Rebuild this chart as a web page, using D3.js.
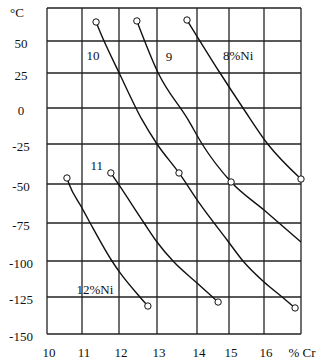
<!DOCTYPE html>
<html>
<head>
<meta charset="utf-8">
<script src="https://cdn.jsdelivr.net/npm/d3@7"></script>
<style>
body{margin:0;background:#fff;}
svg{display:block;}
</style>
</head>
<body>
<div id="chart"></div>
<script>
// ticks of the grid
var crTicks = [10, 11, 12, 13, 14, 15, 16, 17];
var tempTicks = [75, 50, 25, 0, -25, -50, -75, -100, -125, -150];
var crLabels = ["10", "11", "12", "13", "14", "15", "16"];
var tempLabels = ["50", "25", "0", "-25", "-50", "-75", "-100", "-125", "-150"];

// curves: [%Cr, °C]
var ni8 = [[13.75, 65.9], [14.72, 25], [15.4, 0], [16.1, -25], [17.0, -46.9]];
var ni9 = [[12.47, 65.2], [13.03, 25], [13.78, -8.3], [14.16, -25], [15.06, -48.75], [16.0, -66.7], [17.0, -87.5]];
var ni10 = [[11.38, 64.4], [11.49, 56.8], [12.03, 23.6], [12.61, -8.3], [13.0, -25], [13.55, -43.1], [14.09, -62.8], [14.94, -86.2], [15.4, -100], [16.0, -114.6], [16.49, -125], [16.84, -132.4]];
var ni11 = [[11.78, -43.1], [12.0, -50.6], [12.66, -75], [13.0, -87.5], [13.4, -100], [14.0, -115.3], [14.66, -128.4]];
var ni12 = [[10.57, -46.25], [10.63, -50], [11.0, -65.4], [11.22, -75], [11.81, -100], [12.03, -108.3], [12.55, -125], [12.76, -131.1]];

// open circles
var markers = [[13.75, 65.9], [17.0, -46.9], [12.47, 65.2], [15.06, -48.75], [11.38, 64.4], [13.55, -43.1], [16.84, -132.4],
               [11.78, -43.1], [14.66, -128.4], [10.57, -46.25], [12.76, -131.1]];

// curve names
var curveNames = ["8%Ni", "9", "10", "11", "12%Ni"];
var curveLabelAt = [[15.26, 35.2], [13.3, 34.4], [11.3, 35.2], [11.4, -41.25], [11.35, -122.9]];

var svgContainer = d3.select("#chart").append("svg")
	.attr("width", 324)
	.attr("height", 363);

// the scanned grid is not quite even
var x = d3.scaleLinear().domain(crTicks).range([47, 82, 119, 157, 197, 229, 264, 301]);
var y = d3.scaleLinear().domain(tempTicks).range([8, 41, 73, 108, 144, 184, 223, 261, 297, 334]);

var font = "Liberation Serif, Times New Roman, serif";

// grid
svgContainer.selectAll(".vline")
	.data(crTicks)
	.enter()
	.append("line")
	.attr("x1", function(d){ return x(d); })
	.attr("x2", function(d){ return x(d); })
	.attr("y1", y(75))
	.attr("y2", y(-150))
	.style("stroke", "#222")
	.style("stroke-width", 1.3);

svgContainer.selectAll(".hline")
	.data(tempTicks)
	.enter()
	.append("line")
	.attr("x1", x(10))
	.attr("x2", x(17))
	.attr("y1", function(d){ return y(d); })
	.attr("y2", function(d){ return y(d); })
	.style("stroke", "#222")
	.style("stroke-width", 1.3);

// axis texts
svgContainer.selectAll(".ylab")
	.data(tempLabels)
	.enter()
	.append("text")
	.attr("x", 21)
	.attr("y", function(d){ return y(+d); })
	.attr("dy", "0.5em")
	.attr("text-anchor", "middle")
	.attr("font-family", font)
	.attr("font-size", "13px")
	.attr("fill", "#111")
	.text(function(d){ return d; });

svgContainer.append("text")
	.attr("x", 17)
	.attr("y", 17)
	.attr("text-anchor", "middle")
	.attr("font-family", font)
	.attr("font-size", "13px")
	.attr("fill", "#111")
	.text("°C");

svgContainer.selectAll(".xlab")
	.data(crLabels)
	.enter()
	.append("text")
	.attr("x", function(d){ return x(+d) + 2; })
	.attr("y", 357)
	.attr("text-anchor", "middle")
	.attr("font-family", font)
	.attr("font-size", "13px")
	.attr("fill", "#111")
	.text(function(d){ return d; });

svgContainer.append("text")
	.attr("x", x(17) + 1)
	.attr("y", 357)
	.attr("text-anchor", "middle")
	.attr("font-family", font)
	.attr("font-size", "13px")
	.attr("fill", "#111")
	.text("% Cr");

// curves
var line = d3.line()
	.x(function(d){ return x(d[0]); })
	.y(function(d){ return y(d[1]); })
	.curve(d3.curveMonotoneX);

svgContainer.selectAll(".curve")
	.data([ni8, ni9, ni10, ni11, ni12])
	.enter()
	.append("path")
	.attr("d", line)
	.style("fill", "none")
	.style("stroke", "#111")
	.style("stroke-width", 1.4);

svgContainer.selectAll(".marker")
	.data(markers)
	.enter()
	.append("circle")
	.attr("cx", function(d){ return x(d[0]); })
	.attr("cy", function(d){ return y(d[1]); })
	.attr("r", 3.2)
	.style("fill", "white")
	.style("stroke", "#111")
	.style("stroke-width", 1);

svgContainer.selectAll(".curvelab")
	.data(curveNames)
	.enter()
	.append("text")
	.attr("x", function(d, i){ return x(curveLabelAt[i][0]); })
	.attr("y", function(d, i){ return y(curveLabelAt[i][1]); })
	.attr("text-anchor", "middle")
	.attr("font-family", font)
	.attr("font-size", "13px")
	.attr("fill", "#111")
	.text(function(d){ return d; });
</script>
</body>
</html>
